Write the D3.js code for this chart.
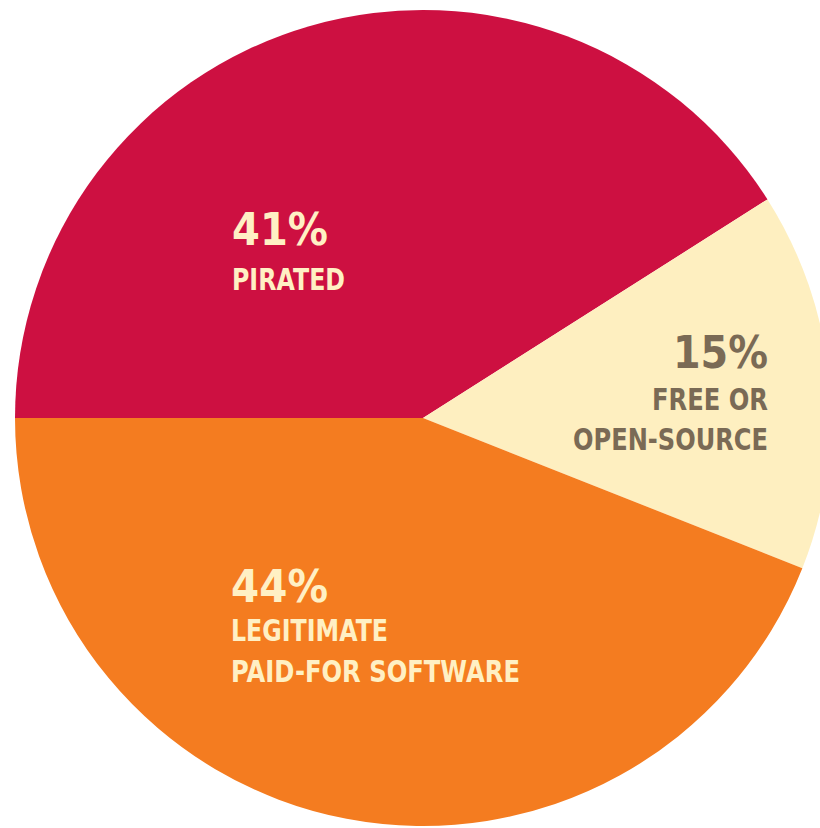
<!DOCTYPE html>
<html>
<head>
<meta charset="utf-8">
<script src="https://cdnjs.cloudflare.com/ajax/libs/d3/7.8.5/d3.min.js"></script>
<style>
  html, body { margin:0; padding:0; background:#ffffff; }
  svg { display:block; }
</style>
</head>
<body>
<div id="pie-chart"></div>
<script>
// data
const categories = ["Pirated", "Free or open-source", "Legitimate paid-for software"]
const shares = [41, 15, 44]
const pctLabels = ["41%", "15%", "44%"]
const nameLines = [["PIRATED"], ["FREE OR", "OPEN-SOURCE"], ["LEGITIMATE", "PAID-FOR SOFTWARE"]]

const sliceColors = ["#cd1041", "#feefc0", "#f47c20"]
const textColors = ["#fff0c4", "#7a6a55", "#fff0c4"]

const pieWidth = 820
const pieHeight = 828
const center = { x:423, y:418 }
const radius = 408

// label anchors relative to the centre, plus text widths measured on the picture
const labelLayout = [
    { dx:-191, dy:-173, anchor:"start", pctW:96, lineY:[45], lineW:[113] },
    { dx:345, dy:-50, anchor:"end", pctW:95, lineY:[42, 82], lineW:[116, 195] },
    { dx:-192, dy:184, anchor:"start", pctW:97, lineY:[39, 80], lineW:[157, 289] }
]

let pieSvg = d3.select("#pie-chart").append("svg")
    .attr("width", pieWidth)
    .attr("height", pieHeight)

let pieG = pieSvg.append("g")
    .attr("transform", `translate(${center.x}, ${center.y})`)

let pie = d3.pie()
    .sort(null)
    .startAngle(-Math.PI / 2)
    .endAngle(Math.PI * 1.5)
    .value(d => d)

let arc = d3.arc().innerRadius(0).outerRadius(radius)

let arcs = pie(shares)

pieG.selectAll("path.slice")
    .data(arcs)
    .join("path")
    .attr("class", "slice")
    .attr("d", arc)
    .attr("fill", (d, i) => sliceColors[i])

let labels = pieG.selectAll("g.label")
    .data(arcs)
    .join("g")
    .attr("class", "label")
    .attr("transform", (d, i) => `translate(${labelLayout[i].dx}, ${labelLayout[i].dy})`)
    .attr("text-anchor", (d, i) => labelLayout[i].anchor)
    .attr("fill", (d, i) => textColors[i])
    .attr("font-family", "'DejaVu Sans', Arial, sans-serif")

labels.append("text")
    .attr("y", 0)
    .attr("font-size", "44px")
    .attr("font-weight", "bold")
    .attr("textLength", (d, i) => labelLayout[i].pctW)
    .attr("lengthAdjust", "spacingAndGlyphs")
    .text((d, i) => pctLabels[i])

labels.each(function(d, i) {
    d3.select(this).selectAll("text.name")
        .data(nameLines[i])
        .join("text")
        .attr("class", "name")
        .attr("y", (s, j) => labelLayout[i].lineY[j])
        .attr("font-size", "31px")
        .attr("font-weight", "bold")
        .attr("textLength", (s, j) => labelLayout[i].lineW[j])
        .attr("lengthAdjust", "spacingAndGlyphs")
        .text(s => s)
})
</script>
</body>
</html>
